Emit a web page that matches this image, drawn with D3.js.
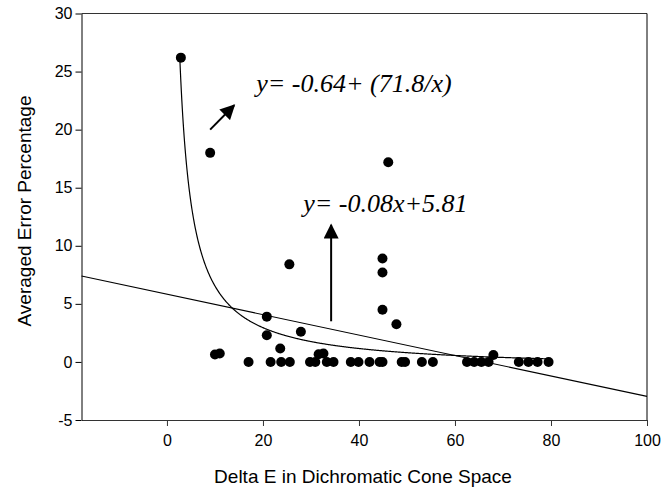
<!DOCTYPE html>
<html>
<head>
<meta charset="utf-8">
<script src="https://cdn.jsdelivr.net/npm/d3@7"></script>
<style>
  body { margin: 0; background: #fff; }
  svg { display: block; }
  .tick text { font-family: "Liberation Sans", Arial, sans-serif; font-size: 16px; fill: #000; }
</style>
</head>
<body>
<svg id="chart" width="669" height="492"></svg>
<script>
// observations (Delta E, averaged error %)
const deltaE = [2.9, 9.0, 10.0, 11.0, 17.0, 20.8, 20.8, 21.6, 23.6, 23.8, 25.5, 25.6, 27.9,
  29.8, 30.9, 31.6, 32.6, 33.3, 34.7, 38.3, 39.9, 42.2, 44.3, 44.9, 44.9, 44.9, 44.9,
  46.1, 47.8, 48.9, 49.6, 53.1, 55.4, 62.5, 64.0, 65.5, 67.0, 68.0, 73.3, 75.3, 77.2, 79.5];
const errorPct = [26.2, 18.0, 0.64, 0.72, 0, 3.9, 2.3, 0, 1.15, 0, 8.4, 0, 2.6,
  0, 0, 0.66, 0.72, 0, 0, 0, 0, 0, 0, 4.5, 7.7, 8.9, 0,
  17.2, 3.25, 0, 0, 0, 0, 0, 0, 0, 0, 0.6, 0, 0, 0, 0];

// fitted curves as printed on the chart
const linFit = [-0.088, 5.83];     // slope, intercept (drawn)
const hypFit = [-0.64, 71.8];      // a + b/x
const hypRange = [2.7, 79.5];

const xTicks = [0, 20, 40, 60, 80, 100];
const yTicks = [-5, 0, 5, 10, 15, 20, 25, 30];

// annotations in data units
const labels = [
  { text: 'y= -0.64+ (71.8/x)', x: 18.6, y: 23.2 },
  { text: 'y= -0.08x+5.81', x: 28.4, y: 12.9 },
];
const arrows = [
  { x1: 9.0, y1: 20.0, x2: 14.0, y2: 22.1 },
  { x1: 34.2, y1: 3.5, x2: 34.2, y2: 11.8 },
];

const svg = d3.select('#chart');
const m = { left: 81.5, right: 647, top: 13.5, bottom: 420 };

const x = d3.scaleLinear().domain([-17.8, 100]).range([m.left, m.right]);
const y = d3.scaleLinear().domain([-5, 30]).range([m.bottom, m.top]);

// frame (top / right)
svg.append('line').attr('x1', m.left).attr('x2', m.right).attr('y1', m.top).attr('y2', m.top)
  .attr('stroke', '#333').attr('stroke-width', 1);
svg.append('line').attr('x1', m.right).attr('x2', m.right).attr('y1', m.top).attr('y2', m.bottom)
  .attr('stroke', '#000').attr('stroke-width', 1);

const fmt = d => String(d);  // plain hyphen for negatives

const xAxis = svg.append('g').attr('transform', `translate(0,${m.bottom})`)
  .call(d3.axisBottom(x).tickValues(xTicks).tickFormat(fmt).tickSize(6).tickPadding(9).tickSizeOuter(0));
xAxis.select('.domain').attr('stroke', '#333');
xAxis.selectAll('.tick line').attr('stroke', '#333');

const yAxis = svg.append('g').attr('transform', `translate(${m.left},0)`)
  .call(d3.axisLeft(y).tickValues(yTicks).tickFormat(fmt).tickSize(6).tickPadding(3).tickSizeOuter(0));
yAxis.select('.domain').attr('stroke', '#000');

// fits
svg.append('clipPath').attr('id', 'plot-clip')
  .append('rect').attr('x', m.left).attr('y', m.top)
  .attr('width', m.right - m.left).attr('height', m.bottom - m.top);

const xs = x.domain();
svg.append('line')
  .attr('x1', x(xs[0])).attr('y1', y(linFit[0] * xs[0] + linFit[1]))
  .attr('x2', x(xs[1])).attr('y2', y(linFit[0] * xs[1] + linFit[1]))
  .attr('stroke', '#000').attr('stroke-width', 1.2);

const hypX = d3.range(hypRange[0], hypRange[1], 0.1).concat([hypRange[1]]);
svg.append('path')
  .datum(hypX)
  .attr('fill', 'none').attr('stroke', '#000').attr('stroke-width', 1.2)
  .attr('clip-path', 'url(#plot-clip)')
  .attr('d', d3.line().x(d => x(d)).y(d => y(hypFit[0] + hypFit[1] / d)));

// points
svg.append('g').selectAll('circle')
  .data(deltaE.map((d, i) => [d, errorPct[i]]))
  .join('circle')
  .attr('cx', d => x(d[0])).attr('cy', d => y(d[1])).attr('r', 5)
  .attr('fill', '#000');

// arrows
svg.append('defs').append('marker')
  .attr('id', 'head').attr('viewBox', '0 0 10 10')
  .attr('refX', 9).attr('refY', 5)
  .attr('markerWidth', 16).attr('markerHeight', 15)
  .attr('markerUnits', 'userSpaceOnUse')
  .attr('orient', 'auto')
  .append('path').attr('d', 'M0,0 L10,5 L0,10 Z').attr('fill', '#000');

svg.append('g').selectAll('line').data(arrows).join('line')
  .attr('x1', d => x(d.x1)).attr('y1', d => y(d.y1))
  .attr('x2', d => x(d.x2)).attr('y2', d => y(d.y2))
  .attr('stroke', '#000').attr('stroke-width', 2)
  .attr('marker-end', 'url(#head)');

svg.append('g').selectAll('text').data(labels).join('text')
  .attr('x', d => x(d.x)).attr('y', d => y(d.y))
  .attr('font-family', '"Liberation Serif", "Times New Roman", serif')
  .attr('font-style', 'italic').attr('font-size', 26)
  .text(d => d.text);

// axis titles
svg.append('text')
  .attr('x', 363).attr('y', 483)
  .attr('text-anchor', 'middle')
  .attr('font-family', '"Liberation Sans", Arial, sans-serif').attr('font-size', 19)
  .text('Delta E in Dichromatic Cone Space');

svg.append('text')
  .attr('transform', `translate(31,211) rotate(-90)`)
  .attr('text-anchor', 'middle')
  .attr('font-family', '"Liberation Sans", Arial, sans-serif').attr('font-size', 19)
  .text('Averaged Error Percentage');
</script>
</body>
</html>
